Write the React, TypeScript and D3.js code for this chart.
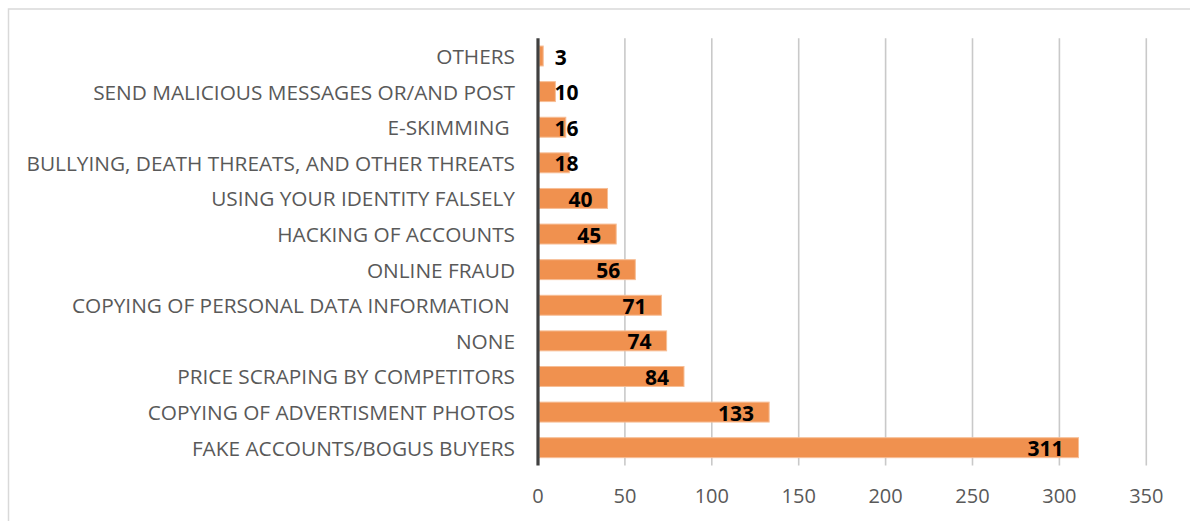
import React from "react";
import * as d3 from "d3";

const categories = [
  "OTHERS",
  "SEND MALICIOUS MESSAGES OR/AND POST",
  "E-SKIMMING ",
  "BULLYING, DEATH THREATS, AND OTHER THREATS",
  "USING YOUR IDENTITY FALSELY",
  "HACKING OF ACCOUNTS",
  "ONLINE FRAUD",
  "COPYING OF PERSONAL DATA INFORMATION ",
  "NONE",
  "PRICE SCRAPING BY COMPETITORS",
  "COPYING OF ADVERTISMENT PHOTOS",
  "FAKE ACCOUNTS/BOGUS BUYERS",
];
const values = [3, 10, 16, 18, 40, 45, 56, 71, 74, 84, 133, 311];
const ticks = [0, 50, 100, 150, 200, 250, 300, 350];

const W = 1190;
const H = 521;
const FONT = "'Open Sans', sans-serif";

export default function App() {
  const x = d3.scaleLinear().domain([0, 350]).range([538, 1146.3]);
  const y = d3.scaleBand<string>().domain(categories).range([38.2, 465.5]).paddingInner(0.44).paddingOuter(0.22);
  const bw = y.bandwidth();
  const digitW = 11.8;

  return (
    <svg width={W} height={H} style={{ position: "absolute", left: 0, top: 0 }}>
      <rect x={0} y={0} width={W} height={H} fill="#ffffff" />
      <rect x={8.5} y={9} width={W + 20} height={H + 20} fill="none" stroke="#D9D9D9" strokeWidth={1.5} />
      {ticks.slice(1).map((t) => (
        <line key={t} x1={x(t)} x2={x(t)} y1={38.2} y2={465.5} stroke="#C9C9C9" strokeWidth={1.6} />
      ))}
      {categories.map((c, i) => {
        const v = values[i];
        const y0 = y(c)!;
        return (
          <rect key={c} x={x(0) + 1.5} y={y0} width={x(v) - x(0) - 1.5} height={bw}
            fill="#F0914F" stroke="#F7BE96" strokeWidth={1} />
        );
      })}
      <line x1={x(0)} x2={x(0)} y1={38.2} y2={465.5} stroke="#404040" strokeWidth={3.2} />
      {categories.map((c) => (
        <text key={c} x={515} y={y(c)! + bw / 2} textAnchor="end" dominantBaseline="central"
          fontFamily={FONT} fontSize={20.8} fill="#595959" style={{ whiteSpace: "pre" }}>{c}</text>
      ))}
      {categories.map((c, i) => {
        const v = values[i];
        const w = String(v).length * digitW;
        const endX = Math.max(x(v) - 15, 555 + w);
        return (
          <text key={c} x={endX} y={y(c)! + bw / 2 + 8.5} textAnchor="end"
            fontFamily={FONT} fontWeight="bold" fontSize={21} fill="#000000">{v}</text>
        );
      })}
      {ticks.map((t) => (
        <text key={t} x={x(t)} y={503} textAnchor="middle" fontFamily={FONT} fontSize={20} fill="#595959">{t}</text>
      ))}
    </svg>
  );
}
